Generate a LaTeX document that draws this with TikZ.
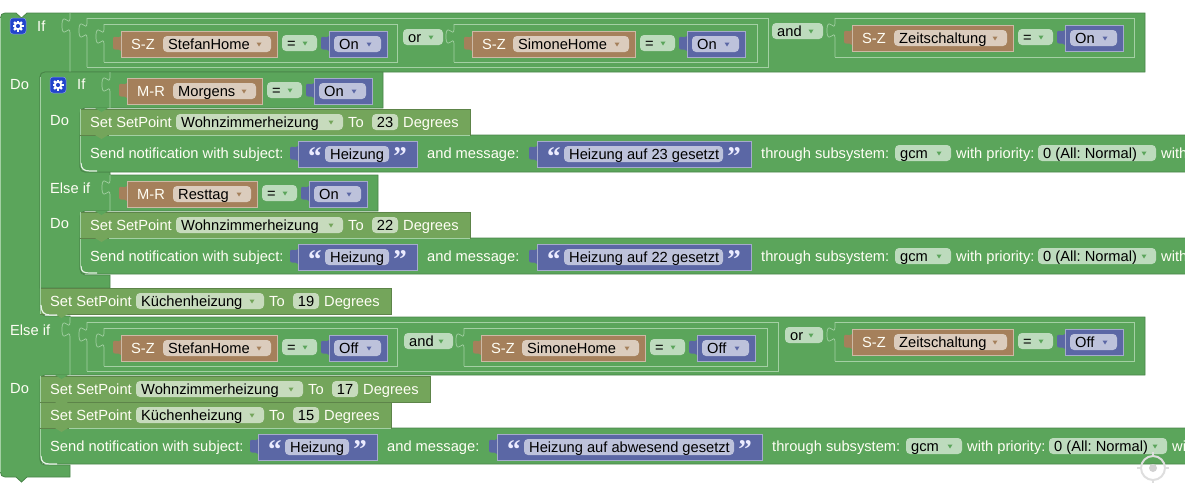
\documentclass[tikz,border=0pt]{standalone}
\usepackage{fontspec}
\setmainfont{Liberation Sans}
\newfontfamily\quotefont{Liberation Serif}
\usepackage{tikz}

\definecolor{logic}{HTML}{5BA55B}
\definecolor{logicdark}{HTML}{498449}
\definecolor{logiclight}{HTML}{A4D0A4}
\definecolor{setgreen}{HTML}{74A55B}
\definecolor{setdark}{HTML}{5D8449}
\definecolor{brownblock}{HTML}{A5805B}
\definecolor{blueblock}{HTML}{5B67A5}
\definecolor{logicfield}{HTML}{BDDBBD}
\definecolor{setfield}{HTML}{C7DBBD}
\definecolor{brownfield}{HTML}{DBCCBD}
\definecolor{bluefield}{HTML}{BDC2DB}
\definecolor{gearblue}{HTML}{2244CC}

\frenchspacing
\tikzset{
  blocktxt/.style={text=white!96!yellow,font=\fontsize{14.67}{16}\selectfont,inner sep=0pt,anchor=base west},
  fieldtxt/.style={text=black,font=\fontsize{14.67}{16}\selectfont,inner sep=0pt,anchor=base west},
  logicblock/.style={fill=logic,draw=logicdark,line width=.8pt},
  setblock/.style={fill=setgreen,draw=setdark,line width=.8pt},
  slotline/.style={draw=logiclight,line width=.7pt},
  cornerline/.style={draw=white!85!logic,line width=1.2pt}
}

% name, x1, x2, top, text, field colour, arrow colour
\newcommand{\dropfield}[7]{
  \fill[#6,rounded corners=4pt] (#2,#4) rectangle (#3,#4+16);
  \node[fieldtxt] (#1) at (#2+5,#4+13) {#5};
  \fill[#7] (#3-14.5,#4+6.5) -- (#3-9.5,#4+6.5) -- (#3-12,#4+10.5) -- cycle;
}
% left tab of a value block
\newcommand{\lefttab}[3]{
  \fill[#3] (#1,#2+5) .. controls (#1-3,#2+9) and (#1-8,#2+2) .. (#1-8,#2+9) -- (#1-8,#2+15)
    .. controls (#1-8,#2+22) and (#1-3,#2+16) .. (#1,#2+20) -- cycle;
}
% x1, x2, top, colour
\newcommand{\valblock}[4]{
  \lefttab{#1}{#3}{#4}
  \draw[fill=#4,draw=#4!55!white,line width=.6pt] (#1,#3) rectangle (#2,#3+26);
}
% x, top, bottom: edge of a slot with its tab
\newcommand{\slotedge}[3]{
  \draw[slotline] (#1,#2) -- (#1,#2+5) .. controls (#1,#2+15) and (#1-8,#2-3) .. (#1-8,#2+12.5)
    .. controls (#1-8,#2+28) and (#1,#2+10) .. (#1,#2+20) -- (#1,#3);
}
% x1, top, x2, bottom
\newcommand{\slotbox}[4]{
  \draw[slotline] (#1,#2) -- (#3,#2) -- (#3,#4) -- (#1,#4);
  \slotedge{#1}{#2}{#4}
}
% name, x brown, x field, x end, top, code, device, state
\newcommand{\compare}[8]{
  \valblock{#2}{#4}{#5}{brownblock}
  \node[blocktxt] (#1code) at (#2+10,#5+18) {#6};
  \dropfield{#1dev}{#3}{#4-6}{#5+5}{#7}{brownfield}{brownblock}
  \dropfield{#1eq}{#4+5}{#4+40}{#5+4}{=}{logicfield}{logic}
  \valblock{#4+52}{#4+110}{#5}{blueblock}
  \dropfield{#1state}{#4+57}{#4+104}{#5+5}{#8}{bluefield}{blueblock}
}
% name, x, top, text, width
\newcommand{\strblock}[5]{
  \valblock{#2}{#2+#5}{#3}{blueblock}
  \fill[bluefield,rounded corners=4pt] (#2+27,#3+5) rectangle (#2+#5-28,#3+21);
  \node[fieldtxt] (#1) at (#2+32,#3+18) {#4};
  \node[text=white!92!blue,font=\quotefont\bfseries\fontsize{27}{27}\selectfont,inner sep=0pt,anchor=base west] (#1open) at (#2+10,#3+24) {“};
  \node[text=white!92!blue,font=\quotefont\bfseries\fontsize{27}{27}\selectfont,inner sep=0pt,anchor=base east] (#1close) at (#2+#5-10,#3+24) {”};
}
% name, x, top, device, field end, temperature
\newcommand{\setpoint}[6]{
  \path[setblock] (#2,#3) -- (#5+127,#3) -- (#5+127,#3+26) -- (#2,#3+26) -- cycle;
  \draw[slotline] (#2,#3) -- (#2,#3+26);
  \node[blocktxt] (#1set) at (#2+10,#3+18) {Set SetPoint};
  \dropfield{#1dev}{#2+96}{#5}{#3+5}{#4}{setfield}{setgreen}
  \node[blocktxt] (#1to) at (#5+5,#3+18) {To};
  \fill[setfield,rounded corners=4pt] (#5+29,#3+5) rectangle (#5+55,#3+21);
  \node[fieldtxt,anchor=base] (#1temp) at (#5+42,#3+18) {#6};
  \node[blocktxt] (#1deg) at (#5+60,#3+18) {Degrees};
  \fill[setgreen] (#2+15,#3+26) -- (#2+28,#3+26) -- (#2+21.5,#3+30) -- cycle;
}
% name, text x, top, message, width of message block, last word
\newcommand{\notify}[6]{
  \node[blocktxt] (#1subj) at (#2,#3+28) {Send notification with subject:};
  \strblock{#1head}{#2+208}{#3+11}{Heizung}{119}
  \node[blocktxt] (#1and) at (#2+337,#3+28) {and message:};
  \strblock{#1msg}{#2+447}{#3+11}{#4}{#5}
  \node[blocktxt] (#1sub) at (#2+457+#5,#3+28) {through subsystem:};
  \dropfield{#1gcm}{#2+591+#5}{#2+647+#5}{#3+15}{gcm}{logicfield}{logic}
  \node[blocktxt] (#1prio) at (#2+652+#5,#3+28) {with priority:};
  \dropfield{#1lvl}{#2+734+#5}{#2+852+#5}{#3+15}{0 (All: Normal)}{logicfield}{logic}
  \node[blocktxt] (#1with) at (#2+857+#5,#3+28) {#6};
}
% name, x, y
\newcommand{\gearicon}[3]{
  \node[fill=gearblue,draw=gearblue!55!white,line width=.5pt,rounded corners=3pt,minimum size=16pt,inner sep=0pt] (#1) at (#2,#3) {};
  \foreach \a in {0,45,...,315}
    \fill[white,rotate around={\a:(#2,#3)}] (#2-1.1,#3-5.5) rectangle (#2+1.1,#3-3);
  \draw[white,line width=1.8pt] (#2,#3) circle (3.2pt);
}

\begin{document}
\begin{tikzpicture}[x=1pt,y=-1pt]
  \useasboundingbox (0,0) rectangle (1185,482);
  \clip (0,0) rectangle (1185,482);

  % outer block
  \path[logicblock] (0.5,18) .. controls (0.5,15) and (2,13) .. (5,13) -- (16,13) -- (21.5,18) -- (27,13)
    -- (1145,13) -- (1145,72) -- (45,72) .. controls (42,72) and (40,74) .. (40,77) -- (40,310)
    .. controls (40,313) and (42,316) .. (45,316) -- (70,316) -- (70,317) -- (1145,317) -- (1145,375)
    -- (45,375) .. controls (42,375) and (40,377) .. (40,380) -- (40,460)
    .. controls (40,463) and (42,465) .. (45,465) -- (70,465) -- (70,477) -- (27,477) -- (21.5,482) -- (16,477)
    -- (5,477) .. controls (2,477) and (0.5,475) .. (0.5,472) -- cycle;
  \draw[slotline] (0.6,18) -- (0.6,472);
  \gearicon{gearA}{18}{26}
  \node[blocktxt] (ifA) at (37,31) {If};
  \node[blocktxt] (doA) at (10,89) {Do};
  \node[blocktxt] (elseA) at (10,335) {Else if};
  \node[blocktxt] (doB) at (10,393) {Do};

  % first condition
  \slotedge{70}{13}{72}
  \slotbox{87}{18}{768}{67}
  \slotbox{104}{24}{397}{62}
  \compare{stefanA}{121}{163}{277}{31}{S-Z}{StefanHome}{On}
  \dropfield{orA}{403}{443}{29}{or}{logicfield}{logic}
  \slotbox{454}{24}{757}{62}
  \compare{simoneA}{472}{513}{635}{31}{S-Z}{SimoneHome}{On}
  \dropfield{andA}{772}{823}{23}{and}{logicfield}{logic}
  \slotbox{835}{18}{1134}{57}
  \compare{zeitA}{852}{894}{1013}{25}{S-Z}{Zeitschaltung}{On}

  % inner block
  \path[logicblock] (40,77) .. controls (40,74) and (42,72) .. (45,72) -- (383,72) -- (383,108) -- (85,108)
    .. controls (82,108) and (80,110) .. (80,113) -- (80,167) .. controls (80,170) and (82,172) .. (85,172)
    -- (110,172) -- (110,175) -- (378,175) -- (378,211) -- (85,211) .. controls (82,211) and (80,213) .. (80,216)
    -- (80,269) .. controls (80,272) and (82,275) .. (85,275) -- (110,275) -- (110,288) -- (40,288) -- cycle;
  \draw[slotline] (40.6,77) -- (40.6,288);
  \gearicon{gearB}{58}{85}
  \node[blocktxt] (ifB) at (77,89) {If};
  \node[blocktxt] (doC) at (50,125) {Do};
  \node[blocktxt] (elseB) at (50,193) {Else if};
  \node[blocktxt] (doD) at (50,228) {Do};
  \slotedge{110}{72}{108}
  \compare{morgens}{127}{173}{262}{78}{M-R}{Morgens}{On}
  \slotedge{110}{175}{211}
  \compare{resttag}{127}{173}{257}{181}{M-R}{Resttag}{On}

  % notification rows
  \path[logicblock] (80,135) -- (1190,135) -- (1190,172) -- (85,172)
    .. controls (82,172) and (80,170) .. (80,167) -- cycle;
  \draw[cornerline] (81,163) .. controls (81,169) and (84,171) .. (90,171) -- (97,171);
  \draw[slotline] (80.6,135) -- (80.6,163);
  \notify{morgensN}{90}{130}{Heizung auf 23 gesetzt}{214}{with}
  \setpoint{wohnA}{80}{109}{Wohnzimmerheizung}{343}{23}
  \draw[slotline] (109,135) -- (470,135);
  \fill[logic] (95,108) -- (108,108) -- (101.5,112) -- cycle;

  \path[logicblock] (80,238) -- (1190,238) -- (1190,274) -- (85,274)
    .. controls (82,274) and (80,272) .. (80,269) -- cycle;
  \draw[cornerline] (81,266) .. controls (81,272) and (84,273) .. (90,273) -- (97,273);
  \draw[slotline] (80.6,238) -- (80.6,266);
  \notify{resttagN}{90}{233}{Heizung auf 22 gesetzt}{214}{with}
  \setpoint{wohnB}{80}{212}{Wohnzimmerheizung}{343}{22}
  \draw[slotline] (109,238) -- (470,238);
  \fill[logic] (95,211) -- (108,211) -- (101.5,215) -- cycle;

  \setpoint{kuecheA}{40}{288}{Küchenheizung}{264}{19}
  \draw[cornerline] (41,305) .. controls (41,312) and (44,315) .. (50,315) -- (57,315);

  % second condition
  \slotedge{70}{317}{375}
  \slotbox{87}{322}{778}{371}
  \slotbox{104}{328}{397}{366}
  \compare{stefanB}{121}{163}{277}{335}{S-Z}{StefanHome}{Off}
  \dropfield{andB}{404}{453}{333}{and}{logicfield}{logic}
  \slotbox{464}{328}{767}{366}
  \compare{simoneB}{481}{522}{645}{335}{S-Z}{SimoneHome}{Off}
  \dropfield{orB}{785}{823}{327}{or}{logicfield}{logic}
  \slotbox{835}{322}{1134}{361}
  \compare{zeitB}{852}{894}{1013}{329}{S-Z}{Zeitschaltung}{Off}

  % last statements
  \path[logicblock] (40,428) -- (1190,428) -- (1190,464) -- (45,464)
    .. controls (42,464) and (40,462) .. (40,459) -- cycle;
  \draw[cornerline] (41,456) .. controls (41,462) and (44,464) .. (50,464) -- (57,464);
  \draw[slotline] (40.6,428) -- (40.6,456);
  \notify{abwesend}{50}{423}{Heizung auf abwesend gesetzt}{265}{wi}
  \setpoint{kuecheB}{40}{402}{Küchenheizung}{264}{15}
  \draw[slotline] (69,428) -- (391,428);
  \setpoint{wohnC}{40}{376}{Wohnzimmerheizung}{303}{17}
  \fill[logic] (55,375) -- (68,375) -- (61.5,379) -- cycle;

  % view control
  \draw[black!13,line width=2pt] (1153,468) circle (12pt);
  \fill[black!18] (1153,468) circle (4pt);
  \foreach \a in {0,90,180,270}
    \draw[black!13,line width=1.5pt,rotate around={\a:(1153,468)}] (1153,452) -- (1153,457);
\end{tikzpicture}
\end{document}
